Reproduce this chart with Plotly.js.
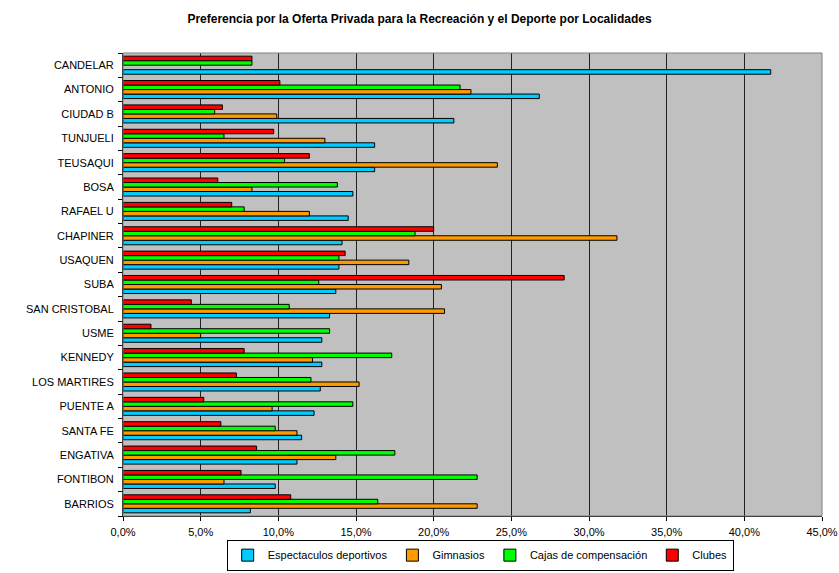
<!DOCTYPE html>
<html>
<head>
<meta charset="utf-8">
<script src="https://cdn.plot.ly/plotly-3.0.1.min.js"></script>
<style>html,body{margin:0;padding:0;background:#fff;}#chart{width:839px;height:573px;}</style>
</head>
<body>
<div id="chart"></div>
<script>
// Categories listed top-to-bottom as shown in the chart
const categories = ["CANDELAR","ANTONIO","CIUDAD B","TUNJUELI","TEUSAQUI","BOSA","RAFAEL U","CHAPINER","USAQUEN","SUBA","SAN CRISTOBAL","USME","KENNEDY","LOS MARTIRES","PUENTE A","SANTA FE","ENGATIVA","FONTIBON","BARRIOS"];
const espectaculos = [41.7,26.8,21.3,16.2,16.2,14.8,14.5,14.1,13.9,13.7,13.3,12.8,12.8,12.7,12.3,11.5,11.2,9.8,8.2];
const gimnasios    = [null,22.4,9.9,13.0,24.1,8.3,12.0,31.8,18.4,20.5,20.7,5.0,12.2,15.2,9.6,11.2,13.7,6.5,22.8];
const cajas        = [8.3,21.7,5.9,6.5,10.4,13.8,7.8,18.8,13.9,12.6,10.7,13.3,17.3,12.1,14.8,9.8,17.5,22.8,16.4];
const clubes       = [8.3,10.1,6.4,9.7,12.0,6.1,7.0,20.0,14.3,28.4,4.4,1.8,7.8,7.3,5.2,6.3,8.6,7.6,10.8];
const seriesNames  = ["Espectaculos deportivos","Gimnasios","Cajas de compensación","Clubes"];
const seriesColors = ["#00CCFF","#FF9900","#00FF00","#FF0000"];
const xTicks = [0,5,10,15,20,25,30,35,40,45];

const seriesValues = [espectaculos, gimnasios, cajas, clubes];
const traces = seriesValues.map((vals, i) => ({
  type: 'bar',
  orientation: 'h',
  name: seriesNames[i],
  y: categories,
  x: vals,
  marker: {color: seriesColors[i], line: {color: '#000', width: 1}},
  hoverinfo: 'x+y+name'
}));

const layout = {
  width: 839, height: 573,
  paper_bgcolor: '#fff',
  plot_bgcolor: '#C0C0C0',
  separators: ',.',
  margin: {l: 123, r: 17, t: 53, b: 57, autoexpand: false},
  font: {family: '"Liberation Sans", Arial, sans-serif', size: 11, color: '#000'},
  title: {
    text: '<b>Preferencia por la Oferta Privada para la Recreación y el Deporte por Localidades</b>',
    font: {family: '"Liberation Sans", Arial, sans-serif', size: 12, color: '#000'},
    x: 0.5, xanchor: 'center', y: 1 - 19/573, yanchor: 'middle', yref: 'container'
  },
  barmode: 'group',
  bargap: 0.26,
  bargroupgap: 0,
  xaxis: {
    range: [0, 45],
    tickvals: xTicks,
    ticktext: xTicks.map(v => v.toFixed(1).replace('.', ',') + '%'),
    ticks: 'outside', ticklen: 4, tickcolor: '#000',
    ticklabelstandoff: 2,
    showgrid: true, gridcolor: '#222', gridwidth: 1,
    showline: true, linecolor: '#000', linewidth: 1,
    zeroline: false,
    mirror: false,
    tickfont: {size: 11},
    automargin: false
  },
  yaxis: {
    type: 'category',
    categoryorder: 'array',
    categoryarray: categories.slice().reverse(),
    tickson: 'boundaries',
    ticks: 'outside', ticklen: 4, tickcolor: '#000',
    ticklabelstandoff: 6,
    showline: true, linecolor: '#000', linewidth: 1,
    showgrid: false, zeroline: false,
    tickfont: {size: 11},
    automargin: false
  },
  shapes: [{type: 'rect', xref: 'paper', yref: 'paper', x0: 0, x1: 1, y0: 0, y1: 1,
            line: {color: '#808080', width: 1}, fillcolor: 'rgba(0,0,0,0)', layer: 'above'}],
  legend: {
    orientation: 'h',
    x: 0.511, xanchor: 'center',
    y: -0.118, yanchor: 'bottom',
    bgcolor: '#fff', bordercolor: '#000', borderwidth: 1,
    font: {size: 11},
    traceorder: 'normal',
    itemwidth: 30,
    tracegroupgap: 0
  },
  showlegend: true
};

Plotly.newPlot('chart', traces, layout, {displayModeBar: false, staticPlot: true});
</script>
</body>
</html>
